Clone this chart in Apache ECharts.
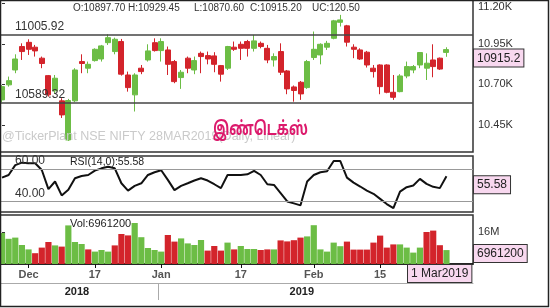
<!DOCTYPE html>
<html>
<head>
<meta charset="utf-8">
<script src="https://cdn.jsdelivr.net/npm/echarts@6/dist/echarts.min.js"></script>
<style>
html, body { margin: 0; padding: 0; background: #fff; }
#chart { width: 550px; height: 308px; }
</style>
</head>
<body>
<div id="chart"></div>
<script>
// NSE NIFTY 28MAR2019 futures, daily, 27 Nov 2018 .. 1 Mar 2019
var opens = [10604, 10697, 10789, 10934, 10960, 10930, 10862, 10754, 10660, 10598,
  10356, 10598, 10841, 10800, 10847, 10857, 10958, 10903, 10965, 10758,
  10635, 10800, 10851, 10958, 10909, 10913, 10841, 10742, 10862, 10789,
  10892, 10878, 10876, 10816, 10800, 10930, 10948, 10965, 10923, 10954,
  10923, 10851, 10903, 10783, 10684, 10713, 10680, 10866, 10882, 10930,
  10985, 11084, 11062, 10930, 10913, 10899, 10800, 10820, 10820, 10651,
  10655, 10752, 10789, 10820, 10800, 10851, 10862, 10897.70];
var highs = [10695, 10748, 10886, 10954, 10979, 10944, 10872, 10758, 10758, 10614,
  10610, 10800, 10886, 10841, 10923, 10944, 11010, 10989, 10981, 10779,
  10769, 10820, 10948, 10985, 10985, 10934, 10851, 10789, 10872, 10872,
  10903, 10903, 10899, 10820, 10938, 10965, 10965, 10975, 11006, 10965,
  10944, 10892, 10954, 10789, 10693, 10721, 10851, 11027, 10954, 10969,
  11099, 11130, 11068, 10948, 10923, 10907, 10820, 10824, 10824, 10758,
  10763, 10841, 10820, 10899, 10892, 10948, 10866, 10929.45];
var lows = [10590, 10686, 10769, 10851, 10882, 10872, 10800, 10624, 10645, 10492,
  10350, 10590, 10769, 10769, 10841, 10841, 10944, 10886, 10754, 10655,
  10532, 10763, 10841, 10903, 10841, 10758, 10707, 10672, 10769, 10763,
  10769, 10824, 10775, 10717, 10789, 10907, 10851, 10872, 10903, 10923,
  10831, 10810, 10758, 10639, 10593, 10604, 10672, 10851, 10824, 10913,
  10979, 11058, 10934, 10862, 10851, 10804, 10742, 10639, 10645, 10604,
  10651, 10738, 10769, 10800, 10727, 10744, 10789, 10870.60];
var closes = [10686, 10723, 10857, 10903, 10917, 10907, 10829, 10635, 10738, 10511,
  10600, 10789, 10829, 10824, 10917, 10938, 10989, 10979, 10763, 10680,
  10758, 10779, 10907, 10909, 10965, 10824, 10717, 10775, 10800, 10847,
  10872, 10857, 10824, 10763, 10934, 10917, 10923, 10923, 10969, 10934,
  10851, 10872, 10775, 10672, 10662, 10641, 10841, 10917, 10948, 10954,
  11093, 11099, 10961, 10917, 10857, 10820, 10779, 10686, 10651, 10620,
  10752, 10810, 10810, 10897, 10831, 10810, 10794.70, 10915.20];
var rsi = [54.7, 56.3, 62.4, 63.9, 63.5, 63.5, 59.4, 47.6, 52.3, 43.7,
  47.2, 54.3, 55.7, 56.3, 59.0, 60.4, 61.4, 60.4, 51.2, 46.7,
  49.6, 51.2, 56.3, 58.0, 59.2, 53.3, 47.0, 49.6, 51.2, 52.9,
  54.3, 52.9, 50.6, 48.2, 56.3, 56.3, 56.3, 56.7, 58.8, 56.3,
  50.6, 50.2, 45.1, 40.0, 38.8, 37.6, 52.3, 56.3, 58.0, 58.6,
  64.9, 64.9, 54.7, 51.6, 49.2, 46.7, 44.7, 41.6, 38.4, 35.9,
  46.1, 48.8, 49.8, 53.9, 50.8, 49.0, 48.2, 55.58];
// volume in millions, volDir 1 = up bar, -1 = down bar
var volM = [15.5, 12.6, 13.2, 9.5, 7.3, 5.4, 8.2, 11.0, 9.3, 8.7,
  19.3, 11.0, 10.0, 7.3, 6.2, 7.0, 6.2, 9.3, 15.0, 14.3,
  20.5, 13.4, 8.0, 7.0, 6.2, 14.5, 11.2, 12.8, 10.3, 9.5,
  12.0, 6.7, 9.0, 6.7, 10.7, 7.3, 9.0, 7.5, 7.5, 7.0,
  7.3, 7.3, 11.8, 11.3, 11.9, 13.2, 13.8, 19.4, 7.3, 6.2,
  10.7, 8.9, 11.2, 7.2, 7.2, 7.2, 10.7, 14.2, 8.2, 9.8,
  9.8, 8.2, 5.7, 8.2, 16.0, 16.7, 9.4, 6.9612];
var volDir = [1, 1, 1, 1, 1, -1, -1, -1, 1, -1,
  1, 1, 1, -1, 1, 1, 1, -1, -1, -1,
  1, 1, 1, 1, 1, -1, -1, 1, 1, 1,
  1, -1, -1, -1, 1, -1, 1, 1, 1, -1,
  -1, 1, -1, -1, -1, -1, 1, 1, 1, 1,
  1, 1, -1, -1, -1, -1, -1, -1, -1, -1,
  1, 1, 1, 1, -1, -1, -1, 1];

var dateTicks = [4, 14, 24, 36, 47, 57];
var dateLabels = ['Dec', '17', 'Jan', '17', 'Feb', '15'];
var yearTicks = [11.3, 45.2];
var yearLabels = ['2018', '2019'];
var yearSplit = [23.5];
var priceTicks = [10450, 10700, 10950, 11200];
var priceLevels = [11005.92, 10589.32];
var rsiLevels = [60, 40];
var volTicks = [16];
var lastChange = 120.50;
var lastVolume = 6961200;
var lastDate = '1 Mar2019';

var GREEN = '#6cbd45';
var RED = '#d3242b';
var FONT = 'Liberation Sans, Arial, sans-serif';
var XMIN = -0.3, XMAX = 71;
var last = closes.length - 1;

var chart = echarts.init(document.getElementById('chart'), null, { renderer: 'canvas' });

var candles = opens.map(function (o, i) { return [i, o, closes[i], lows[i], highs[i]]; });
var rsiData = rsi.map(function (v, i) { return [i, v]; });
var volData = volM.map(function (v, i) {
  return { value: [i, v], itemStyle: { color: volDir[i] > 0 ? GREEN : RED } };
});

function gridBox(top, height) {
  return { left: 0, right: 77, top: top, height: height, show: true,
    borderColor: '#333', borderWidth: 1.5, backgroundColor: '#fff', outerBoundsMode: 'none' };
}
function hiddenX(g) {
  return { type: 'value', gridIndex: g, min: XMIN, max: XMAX, show: false };
}

var option = {
  animation: false,
  backgroundColor: '#fff',
  textStyle: { fontFamily: FONT },
  grid: [gridBox(0, 152), gridBox(156, 56), gridBox(215, 49)],
  xAxis: [
    hiddenX(0),
    hiddenX(1),
    {
      type: 'value', gridIndex: 2, min: XMIN, max: XMAX, position: 'bottom',
      axisLine: { show: true, lineStyle: { color: '#111', width: 1.5 } },
      axisTick: { show: true, customValues: dateTicks, length: 4, lineStyle: { color: '#111' } },
      axisLabel: {
        customValues: dateTicks, margin: 5, color: '#555', fontSize: 11, fontWeight: 'bold',
        formatter: function (v) { return dateLabels[dateTicks.indexOf(v)]; }
      },
      splitLine: { show: false }
    },
    {
      type: 'value', gridIndex: 2, min: XMIN, max: XMAX, position: 'bottom', offset: 19,
      axisLine: { show: true, lineStyle: { color: '#aaa', width: 1 } },
      axisTick: { show: true, customValues: yearSplit, length: 17, lineStyle: { color: '#aaa' } },
      axisLabel: {
        customValues: yearTicks, margin: 3, color: '#222', fontSize: 11, fontWeight: 'bold',
        formatter: function (v) { return yearLabels[yearTicks.indexOf(v)]; }
      },
      splitLine: { show: false }
    }
  ],
  yAxis: [
    {
      type: 'value', gridIndex: 0, position: 'right', min: 10281.5, max: 11222,
      axisLine: { show: false },
      axisTick: { show: true, customValues: priceTicks, length: 3, lineStyle: { color: '#333' } },
      axisLabel: {
        customValues: priceTicks, margin: 5, color: '#333', fontSize: 11,
        formatter: function (v) {
          var s = (v / 1000).toFixed(2) + 'K';
          return v === priceTicks[priceTicks.length - 1] ? '{t|' + s + '}' : s;
        },
        rich: { t: { fontSize: 11, color: '#333', padding: [7, 0, 0, 0] } }
      },
      splitLine: { show: false }
    },
    {
      type: 'value', gridIndex: 1, position: 'right', min: 33.5, max: 68,
      axisLine: { show: false }, axisTick: { show: false }, axisLabel: { show: false },
      splitLine: { show: false }
    },
    {
      type: 'value', gridIndex: 2, position: 'right', min: 0, max: 24.5,
      axisLine: { show: false },
      axisTick: { show: true, customValues: volTicks, length: 3, lineStyle: { color: '#333' } },
      axisLabel: {
        customValues: volTicks, margin: 5, color: '#333', fontSize: 11,
        formatter: function (v) { return v + 'M'; }
      },
      splitLine: { show: false }
    }
  ],
  series: [
    {
      type: 'candlestick', xAxisIndex: 0, yAxisIndex: 0,
      data: candles, encode: { x: 0, y: [1, 2, 3, 4] },
      barWidth: 5.5,
      itemStyle: { color: GREEN, color0: RED, borderColor: GREEN, borderColor0: RED, borderWidth: 1 },
      markLine: {
        silent: true, symbol: ['none', 'none'],
        lineStyle: { color: '#444', width: 1.5, type: 'solid' },
        label: { show: false },
        data: priceLevels.map(function (v) { return { yAxis: v }; })
      }
    },
    {
      type: 'line', xAxisIndex: 1, yAxisIndex: 1,
      data: rsiData, showSymbol: false,
      lineStyle: { color: '#111', width: 2 },
      markLine: {
        silent: true, symbol: ['none', 'none'],
        lineStyle: { color: '#999', width: 1, type: 'solid' },
        label: { show: false },
        data: rsiLevels.map(function (v) { return { yAxis: v }; })
      }
    },
    {
      type: 'bar', xAxisIndex: 2, yAxisIndex: 2,
      data: volData, barWidth: 6.2
    }
  ]
};

chart.setOption(option);

// labels and value boxes tied to the last bar
var boxStyle = {
  fill: '#222', font: '12px ' + FONT, backgroundColor: '#f8d8ef',
  borderColor: '#333', borderWidth: 1, padding: [3, 3, 2, 3], verticalAlign: 'top'
};
function box(text, x, y) {
  return { type: 'text', z: 100, x: x, y: y, style: Object.assign({ text: text }, boxStyle) };
}
function txt(text, x, y, extra) {
  return { type: 'text', z: 90, x: x, y: y,
    style: Object.assign({ text: text, fill: '#333', font: '11px ' + FONT, verticalAlign: 'middle' }, extra || {}) };
}
function levelText(v, axis, digits) {
  var y = chart.convertToPixel({ yAxisIndex: axis }, v);
  return txt(v.toFixed(digits), 15, y - 8, { font: '12px ' + FONT });
}

var pY = chart.convertToPixel({ yAxisIndex: 0 }, closes[last]);
var rY = chart.convertToPixel({ yAxisIndex: 1 }, rsi[last]);
var vY = Math.min(chart.convertToPixel({ yAxisIndex: 2 }, volM[last]), 245);

var graphics = [
  txt('@TickerPlant NSE NIFTY 28MAR2019(Daily, Linear)', 2, 137, { fill: '#cacaca', font: '12.5px ' + FONT }),
  { type: 'text', z: 91, x: 213, y: 131, scaleX: 0.7,
    style: { text: 'இண்டெக்ஸ்', fill: '#dc1a6c', verticalAlign: 'middle',
      font: 'bold 19px Noto Sans Tamil, Noto Sans, sans-serif' } },
  txt('O:' + opens[last].toFixed(2), 73, 8, { font: '10px ' + FONT }),
  txt('H:' + highs[last].toFixed(2), 128, 8, { font: '10px ' + FONT }),
  txt('L:' + lows[last].toFixed(2), 194, 8, { font: '10px ' + FONT }),
  txt('C:' + closes[last].toFixed(2), 250, 8, { font: '10px ' + FONT }),
  txt('UC:' + lastChange.toFixed(2), 312, 8, { font: '10px ' + FONT }),
  txt('RSI(14,0):' + rsi[last].toFixed(2), 70, 162, { fill: '#222', font: '10.5px ' + FONT }),
  txt('Vol:' + lastVolume, 70, 224, { fill: '#222' }),
  box(closes[last].toFixed(1), 474, pY),
  box(rsi[last].toFixed(2), 474, rY),
  box(String(lastVolume), 474, vY),
  box(lastDate, 408, 265),
  { type: 'rect', z: 120, shape: { x: 0.5, y: 0.5, width: 548, height: 306 },
    style: { fill: 'none', stroke: '#222', lineWidth: 1.5 } }
];
priceLevels.forEach(function (v) { graphics.push(levelText(v, 0, 2)); });
rsiLevels.forEach(function (v) { graphics.push(levelText(v, 1, 2)); });

chart.setOption({ graphic: graphics });
</script>
</body>
</html>
